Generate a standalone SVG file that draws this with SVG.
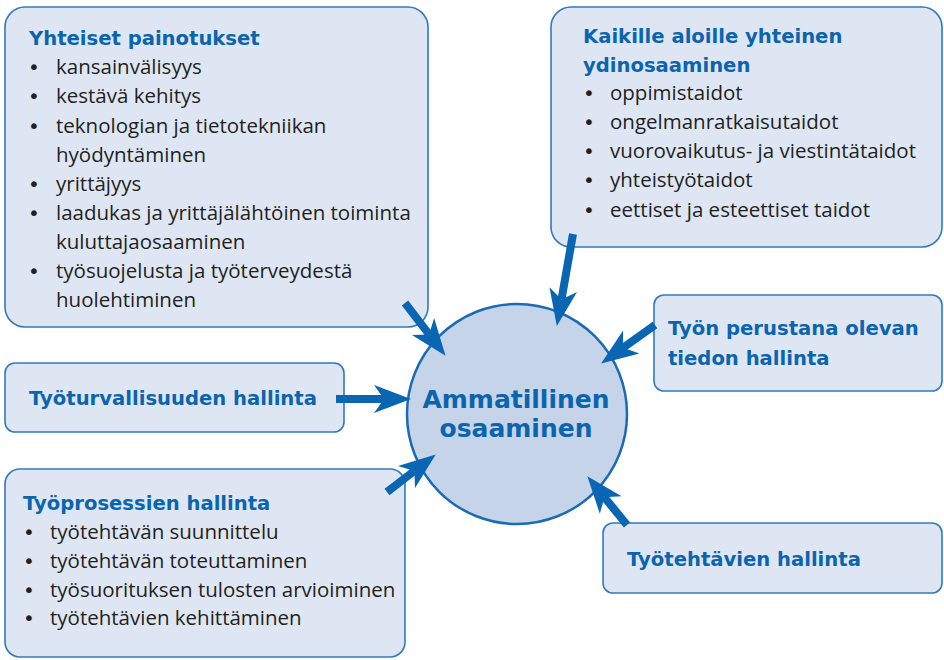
<svg xmlns="http://www.w3.org/2000/svg" width="944" height="660" viewBox="0 0 944 660">
<style>
.box{fill:#dfe6f3;stroke:#3479bd;stroke-width:1.6}
.title{font-family:"DejaVu Sans",sans-serif;font-weight:bold;font-size:19.6px;fill:#0b64ae}
.body{font-family:"Open Sans","Liberation Sans",sans-serif;font-size:20.5px;fill:#231f20}
.bul{font-family:"DejaVu Sans",sans-serif;font-size:20px;fill:#231f20}
.big{font-family:"DejaVu Sans",sans-serif;font-weight:bold;font-size:25px;fill:#0b64ae;text-anchor:middle}
.arr{stroke:#0a66b2;stroke-width:8;fill:none;marker-end:url(#head)}
</style>
<defs>
<marker id="head" markerUnits="userSpaceOnUse" markerWidth="40" markerHeight="32" viewBox="-2 -16 40 32" refX="10" refY="0" orient="auto">
<path d="M0,-14 L37,0 L0,14 L10,0 Z" fill="#0a66b2"/>
</marker>
</defs>
<g id="yhteiset">
<rect class="box" x="5" y="7" width="423" height="320" rx="20"/>
<text class="title" x="29" y="45">Yhteiset painotukset</text>
<g class="bul">
<text x="28" y="74">•</text><text x="28" y="103">•</text><text x="28" y="133">•</text><text x="28" y="191">•</text><text x="28" y="220">•</text><text x="28" y="278">•</text>
</g>
<g class="body">
<text x="56" y="74">kansainvälisyys</text>
<text x="56" y="103">kestävä kehitys</text>
<text x="56" y="133">teknologian ja tietotekniikan</text>
<text x="56" y="162">hyödyntäminen</text>
<text x="56" y="191">yrittäjyys</text>
<text x="56" y="220">laadukas ja yrittäjälähtöinen toiminta</text>
<text x="56" y="249">kuluttajaosaaminen</text>
<text x="56" y="278">työsuojelusta ja työterveydestä</text>
<text x="56" y="307">huolehtiminen</text>
</g>
</g>
<g id="ydinosaaminen">
<rect class="box" x="551" y="7" width="391" height="240" rx="20"/>
<text class="title" x="583" y="43">Kaikille aloille yhteinen</text>
<text class="title" x="583" y="72">ydinosaaminen</text>
<g class="bul">
<text x="583" y="100">•</text><text x="583" y="129">•</text><text x="583" y="158">•</text><text x="583" y="187">•</text><text x="583" y="217">•</text>
</g>
<g class="body">
<text x="610" y="100">oppimistaidot</text>
<text x="610" y="129">ongelmanratkaisutaidot</text>
<text x="610" y="158">vuorovaikutus- ja viestintätaidot</text>
<text x="610" y="187">yhteistyötaidot</text>
<text x="610" y="217">eettiset ja esteettiset taidot</text>
</g>
</g>
<g id="tiedon">
<rect class="box" x="654" y="295" width="288" height="96" rx="10"/>
<text class="title" x="668" y="335">Työn perustana olevan</text>
<text class="title" x="668" y="365">tiedon hallinta</text>
</g>
<g id="tyoturvallisuus">
<rect class="box" x="5" y="363" width="339" height="69" rx="10"/>
<text class="title" x="29" y="405">Työturvallisuuden hallinta</text>
</g>
<g id="tyoprosessit">
<rect class="box" x="5" y="469" width="400" height="188" rx="15"/>
<text class="title" x="23" y="510">Työprosessien hallinta</text>
<g class="bul">
<text x="23" y="539">•</text><text x="23" y="568">•</text><text x="23" y="597">•</text><text x="23" y="625">•</text>
</g>
<g class="body">
<text x="50" y="539">työtehtävän suunnittelu</text>
<text x="50" y="568">työtehtävän toteuttaminen</text>
<text x="50" y="597">työsuorituksen tulosten arvioiminen</text>
<text x="50" y="625">työtehtävien kehittäminen</text>
</g>
</g>
<g id="tyotehtavat">
<rect class="box" x="603" y="523" width="339" height="70" rx="10"/>
<text class="title" x="627" y="566">Työtehtävien hallinta</text>
</g>
<g id="ammatillinen">
<circle cx="517" cy="414" r="110" fill="#c6d4ea" stroke="#1a6ab4" stroke-width="2.5"/>
<text class="big" x="516" y="408">Ammatillinen</text>
<text class="big" x="516" y="437">osaaminen</text>
</g>
<g id="connectors">
<line class="arr" x1="405" y1="303" x2="429.1" y2="334.4"/>
<line class="arr" x1="573" y1="234" x2="561.5" y2="299.4"/>
<line class="arr" x1="655" y1="325" x2="623.1" y2="347.8"/>
<line class="arr" x1="336" y1="399" x2="384" y2="399"/>
<line class="arr" x1="387" y1="492" x2="414.4" y2="470.9"/>
<line class="arr" x1="627" y1="525" x2="604.4" y2="497.2"/>
</g>
</svg>
